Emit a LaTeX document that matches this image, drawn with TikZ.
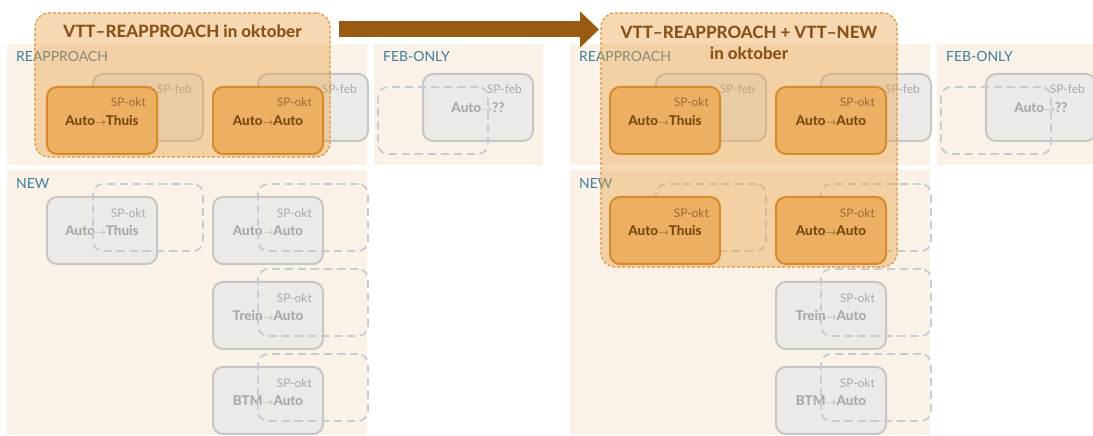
\documentclass[tikz,border=0pt]{standalone}
\usepackage{fontspec}
\setmainfont{Lato}
\newfontfamily\heavyfont{Lato Heavy}
\usetikzlibrary{arrows.meta}

\definecolor{panelbg}{HTML}{FBF2E7}
\definecolor{paneltxt}{HTML}{3E7E9E}
\definecolor{greyfill}{HTML}{EBEAE6}
\definecolor{greyline}{HTML}{C6C6C4}
\definecolor{greytxt}{HTML}{A9A9A7}
\definecolor{dashline}{HTML}{C2CDD6}
\definecolor{orfill}{HTML}{EDB062}
\definecolor{orline}{HTML}{D68A2C}
\definecolor{ortxt}{HTML}{7A4912}
\definecolor{ortag}{HTML}{9C6B37}
\definecolor{hlfill}{HTML}{E8A040}
\definecolor{hlline}{HTML}{E0913A}
\definecolor{arrowc}{HTML}{995A12}
\definecolor{titletxt}{HTML}{8A5418}

% arrow between two modes of travel
\newcommand{\arw}{{\fontsize{11}{11}\selectfont$\rightarrow$}}
% small period tag in the top right corner of a card
\newcommand{\sptag}[4]{\node[tag,text=#4] (#1) at ([xshift=-12bp,yshift=-12bp]#2.north east) {#3};}

\begin{document}
\begin{tikzpicture}[x=1bp,y=-1bp,
  panel/.style={fill=panelbg},
  panellabel/.style={inner sep=0pt, anchor=west, text=paneltxt, font=\fontsize{14}{16}\selectfont},
  cardbase/.style={rounded corners=10bp, minimum width=110bp, minimum height=67bp,
    inner sep=0pt, line width=2bp, font=\fontsize{13.5}{16}\selectfont\heavyfont},
  greycard/.style={cardbase, fill=greyfill, draw=greyline, text=greytxt},
  orcard/.style={cardbase, fill=orfill, draw=orline, text=ortxt},
  dashcard/.style={rounded corners=10bp, minimum width=110bp, minimum height=67bp,
    inner sep=0pt, draw=dashline, line width=1.8bp, dash pattern=on 8bp off 5bp},
  tag/.style={inner sep=0pt, anchor=north east, font=\fontsize{12}{14}\selectfont},
  highlight/.style={rounded corners=14bp, fill=hlfill, fill opacity=0.4,
    draw=hlline, line width=1.1bp, dash pattern=on 3bp off 2bp, inner sep=0pt},
  title/.style={inner sep=0pt, text=titletxt, font=\fontsize{17}{21}\selectfont\heavyfont, align=center}
]
\useasboundingbox (0,0) rectangle (1093,436);
\clip (0,0) rectangle (1093,436);

% ---------- panels ----------
\fill[panel] (7,44) rectangle (367,165);
\fill[panel] (374,44) rectangle (543,165);
\fill[panel] (7,170) rectangle (367,435);
\fill[panel] (570,44) rectangle (930,165);
\fill[panel] (937,44) rectangle (1106,165);
\fill[panel] (570,170) rectangle (930,435);

\node[panellabel] (lblRL) at (16,57) {REAPPROACH};
\node[panellabel] (lblFL) at (383,57) {FEB-ONLY};
\node[panellabel] (lblNL) at (16,184) {NEW};
\node[panellabel] (lblRR) at (579,57) {REAPPROACH};
\node[panellabel] (lblFR) at (946,57) {FEB-ONLY};
\node[panellabel] (lblNR) at (579,184) {NEW};

% ---------- left half: grey cards ----------
\node[greycard] (Lfeb1) at (148,107.5) {};
\sptag{Lfeb1t}{Lfeb1}{SP-feb}{greytxt}
\node[greycard] (Lfeb2) at (313,107.5) {};
\sptag{Lfeb2t}{Lfeb2}{SP-feb}{greytxt}

\node[greycard] (Lnew1) at (102,230.5) {Auto\arw Thuis};
\sptag{Lnew1t}{Lnew1}{SP-okt}{greytxt}
\node[dashcard] (Lnew1d) at (148,217.5) {};
\node[greycard] (Lnew2) at (268,230.5) {Auto\arw Auto};
\sptag{Lnew2t}{Lnew2}{SP-okt}{greytxt}
\node[dashcard] (Lnew2d) at (313,217.5) {};
\node[greycard] (Lnew3) at (268,315.5) {Trein\arw Auto};
\sptag{Lnew3t}{Lnew3}{SP-okt}{greytxt}
\node[dashcard] (Lnew3d) at (313,302.5) {};
\node[greycard] (Lnew4) at (268,400.5) {BTM\arw Auto};
\sptag{Lnew4t}{Lnew4}{SP-okt}{greytxt}
\node[dashcard] (Lnew4d) at (313,387.5) {};

\node[greycard] (Lfo) at (478,107.5) {Auto\arw ??};
\sptag{Lfot}{Lfo}{SP-feb}{greytxt}
\node[dashcard] (Lfod) at (433,120.5) {};

% ---------- right half: grey cards ----------
\node[greycard] (Rfeb1) at (711,107.5) {};
\sptag{Rfeb1t}{Rfeb1}{SP-feb}{greytxt}
\node[greycard] (Rfeb2) at (876,107.5) {};
\sptag{Rfeb2t}{Rfeb2}{SP-feb}{greytxt}

\node[dashcard] (Rnew1d) at (711,217.5) {};
\node[dashcard] (Rnew2d) at (876,217.5) {};
\node[greycard] (Rnew3) at (831,315.5) {Trein\arw Auto};
\sptag{Rnew3t}{Rnew3}{SP-okt}{greytxt}
\node[dashcard] (Rnew3d) at (876,302.5) {};
\node[greycard] (Rnew4) at (831,400.5) {BTM\arw Auto};
\sptag{Rnew4t}{Rnew4}{SP-okt}{greytxt}
\node[dashcard] (Rnew4d) at (876,387.5) {};

\node[greycard] (Rfo) at (1041,107.5) {Auto\arw ??};
\sptag{Rfot}{Rfo}{SP-feb}{greytxt}
\node[dashcard] (Rfod) at (996,120.5) {};

% ---------- highlighted selections ----------
\node[highlight, minimum width=295bp, minimum height=144bp] (hlL) at (182.5,85) {};
\node[highlight, minimum width=296bp, minimum height=254bp] (hlR) at (749,140) {};

% ---------- October cards ----------
\node[orcard] (Lokt1) at (102,120.5) {Auto\arw Thuis};
\sptag{Lokt1t}{Lokt1}{SP-okt}{ortag}
\node[orcard] (Lokt2) at (268,120.5) {Auto\arw Auto};
\sptag{Lokt2t}{Lokt2}{SP-okt}{ortag}

\node[orcard] (Rokt1) at (665,120.5) {Auto\arw Thuis};
\sptag{Rokt1t}{Rokt1}{SP-okt}{ortag}
\node[orcard] (Rokt2) at (831,120.5) {Auto\arw Auto};
\sptag{Rokt2t}{Rokt2}{SP-okt}{ortag}
\node[orcard] (Rnew1) at (665,230.5) {Auto\arw Thuis};
\sptag{Rnew1t}{Rnew1}{SP-okt}{ortag}
\node[orcard] (Rnew2) at (831,230.5) {Auto\arw Auto};
\sptag{Rnew2t}{Rnew2}{SP-okt}{ortag}

% ---------- titles ----------
\node[title] (tL) at (182.5,31) {VTT–REAPPROACH in oktober};
\node[title] (tR) at (749,43) {VTT–REAPPROACH + VTT–NEW\\in oktober};

% ---------- transition arrow ----------
\coordinate (arrS) at (339,29.5);
\coordinate (arrE) at (599,29.5);
\draw[arrowc, line width=16bp, -{Triangle[length=19bp,width=35bp]}] (arrS) -- (arrE);
\end{tikzpicture}
\end{document}
